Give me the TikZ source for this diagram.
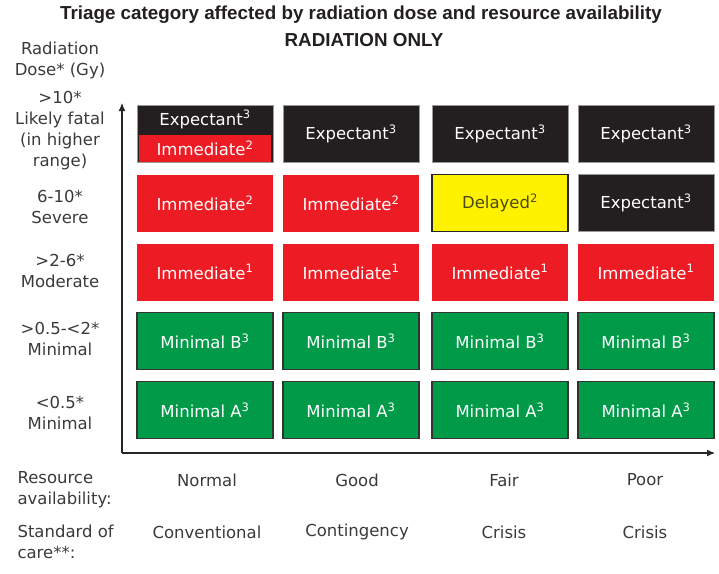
\documentclass[tikz,border=0pt]{standalone}
\usepackage{fontspec}
\setmainfont{DejaVu Sans}
\newfontfamily\titlefont{Liberation Sans}
\usetikzlibrary{arrows.meta}
\definecolor{triblack}{HTML}{231F20}
\definecolor{trired}{HTML}{ED1C24}
\definecolor{trigreen}{HTML}{009A49}
\definecolor{triyellow}{HTML}{FFF200}
\definecolor{trilabel}{HTML}{3A3A3A}
\definecolor{delaytext}{HTML}{4A4A10}
\tikzset{
  cell/.style={minimum width=136pt,minimum height=57pt,inner sep=0pt,font=\fontsize{16.5}{19}\selectfont,text=white},
  expcell/.style={cell,fill=triblack,draw=black!40,line width=0.8pt},
  immcell/.style={cell,fill=trired},
  delcell/.style={cell,fill=triyellow,draw=black!85,line width=1.2pt,text=delaytext},
  mincell/.style={cell,fill=trigreen,draw=black!80,line width=1.2pt},
  doselabel/.style={align=center,font=\fontsize{16.5}{21}\selectfont,text=trilabel},
  carelabel/.style={align=left,anchor=west,font=\fontsize{16.5}{21}\selectfont,text=trilabel},
  collabel/.style={font=\fontsize{16.5}{21}\selectfont,text=trilabel},
  axisline/.style={line width=1.1pt,black!85,-{Latex[length=8pt,width=7pt]}}
}
\begin{document}
\begin{tikzpicture}[x=1pt,y=-1pt]
\useasboundingbox (0,0) rectangle (719,573);
% title
\node[font=\titlefont\bfseries\fontsize{18.8}{22}\selectfont,text=triblack] (title) at (361,15) {Triage category affected by radiation dose and resource availability};
\node[font=\titlefont\bfseries\fontsize{18.8}{22}\selectfont,text=triblack] (subtitle) at (364,40) {RADIATION ONLY};
% dose labels
\node[doselabel] (dosehead) at (60,60) {Radiation\\Dose* (Gy)};
\node[doselabel] (dose5) at (60,131) {>10*\\Likely fatal\\(in higher\\range)};
\node[doselabel] (dose4) at (60,207) {6-10*\\Severe};
\node[doselabel] (dose3) at (60,271) {>2-6*\\Moderate};
\node[doselabel] (dose2) at (60,339) {>0.5-<2*\\Minimal};
\node[doselabel] (dose1) at (60,413) {<0.5*\\Minimal};
% axes
\coordinate (origin) at (122,453);
\coordinate (ytip) at (122,103);
\coordinate (xtip) at (715,453);
\draw[axisline] (origin) -- (ytip);
\draw[axisline] (origin) -- (xtip);
% row >10
\node[expcell] (c51) at (205,134) {};
\node[cell,fill=trired,minimum width=132pt,minimum height=27pt] (c51low) at (205,148) {Immediate\textsuperscript{2}};
\node[cell,minimum height=28pt] (c51up) at (205,119.5) {Expectant\textsuperscript{3}};
\node[expcell] (c52) at (351,134) {Expectant\textsuperscript{3}};
\node[expcell] (c53) at (500,134) {Expectant\textsuperscript{3}};
\node[expcell] (c54) at (646,134) {Expectant\textsuperscript{3}};
% row 6-10
\node[immcell] (c41) at (205,203) {Immediate\textsuperscript{2}};
\node[immcell] (c42) at (351,203) {Immediate\textsuperscript{2}};
\node[delcell] (c43) at (500,203) {Delayed\textsuperscript{2}};
\node[expcell] (c44) at (646,203) {Expectant\textsuperscript{3}};
% row >2-6
\node[immcell] (c31) at (205,272) {Immediate\textsuperscript{1}};
\node[immcell] (c32) at (351,272) {Immediate\textsuperscript{1}};
\node[immcell] (c33) at (500,272) {Immediate\textsuperscript{1}};
\node[immcell] (c34) at (646,272) {Immediate\textsuperscript{1}};
% row >0.5-<2
\node[mincell] (c21) at (205,341) {Minimal B\textsuperscript{3}};
\node[mincell] (c22) at (351,341) {Minimal B\textsuperscript{3}};
\node[mincell] (c23) at (500,341) {Minimal B\textsuperscript{3}};
\node[mincell] (c24) at (646,341) {Minimal B\textsuperscript{3}};
% row <0.5
\node[mincell] (c11) at (205,410) {Minimal A\textsuperscript{3}};
\node[mincell] (c12) at (351,410) {Minimal A\textsuperscript{3}};
\node[mincell] (c13) at (500,410) {Minimal A\textsuperscript{3}};
\node[mincell] (c14) at (646,410) {Minimal A\textsuperscript{3}};
% bottom labels
\node[carelabel] (reshead) at (14,490) {Resource\\availability:};
\node[collabel] (res1) at (207,480) {Normal};
\node[collabel] (res2) at (357,480) {Good};
\node[collabel] (res3) at (504,480) {Fair};
\node[collabel] (res4) at (645,480) {Poor};
\node[carelabel] (carehead) at (14,542) {Standard of\\care**:};
\node[collabel] (care1) at (207,532) {Conventional};
\node[collabel] (care2) at (357,532) {Contingency};
\node[collabel] (care3) at (504,532) {Crisis};
\node[collabel] (care4) at (645,532) {Crisis};
\end{tikzpicture}
\end{document}
